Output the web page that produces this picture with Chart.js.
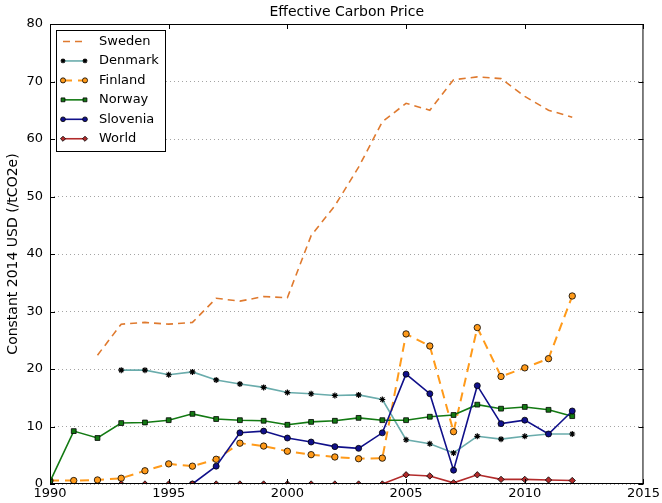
<!DOCTYPE html>
<html>
<head>
<meta charset="utf-8">
<script src="https://cdn.jsdelivr.net/npm/chart.js@4.4.0/dist/chart.umd.min.js"></script>
<style>
  html, body { margin: 0; padding: 0; background: #fff; }
</style>
</head>
<body>
<canvas id="grafico" width="662" height="503"></canvas>
<script>
const years = [1990, 1991, 1992, 1993, 1994, 1995, 1996, 1997, 1998, 1999, 2000, 2001,
  2002, 2003, 2004, 2005, 2006, 2007, 2008, 2009, 2010, 2011, 2012];

const sweden = [null, null, 22.4, 27.8, 28.1, 27.8, 28.1, 32.3, 31.8, 32.6, 32.4, 43.2,
  48.4, 55.1, 63.0, 66.2, 65.0, 70.3, 70.8, 70.5, 67.4, 65.0, 63.8];
const denmark = [null, null, null, 19.8, 19.8, 19.0, 19.5, 18.1, 17.4, 16.8, 15.9, 15.7,
  15.4, 15.5, 14.7, 7.7, 7.0, 5.4, 8.3, 7.8, 8.3, 8.7, 8.7];
const finland = [0.6, 0.6, 0.7, 1.0, 2.3, 3.5, 3.1, 4.3, 7.1, 6.6, 5.7, 5.1,
  4.7, 4.4, 4.5, 26.1, 24.0, 9.1, 27.2, 18.7, 20.2, 21.8, 32.7];
const norway = [0.4, 9.2, 8.0, 10.6, 10.7, 11.1, 12.2, 11.3, 11.1, 11.0, 10.3, 10.8,
  11.0, 11.5, 11.1, 11.1, 11.7, 12.0, 13.8, 13.1, 13.4, 12.9, 11.8];
const slovenia = [null, null, null, null, null, null, 0, 3.1, 8.9, 9.2, 8.0, 7.3,
  6.5, 6.2, 8.9, 19.1, 15.7, 2.4, 17.1, 10.5, 11.1, 8.7, 12.7];
const world = [null, null, null, 0, 0, 0, 0, 0, 0, 0, 0, 0,
  0, 0, 0, 1.6, 1.4, 0.2, 1.6, 0.8, 0.8, 0.7, 0.6];

const xTicks = [1990, 1995, 2000, 2005, 2010, 2015];
const yTicks = [0, 10, 20, 30, 40, 50, 60, 70, 80];

function puntos(valores) {
  return years.map((yr, i) => ({ x: yr, y: valores[i] })).filter((p) => p.y !== null);
}

const FUENTE = "'DejaVu Sans', sans-serif";

const series = [
  { label: "Sweden", data: puntos(sweden), borderColor: "#df7a2f", borderWidth: 1.6,
    borderDash: [7, 5], pointRadius: 0, order: 5 },
  { label: "Denmark", data: puntos(denmark), borderColor: "#6aacac", borderWidth: 1.6,
    pointStyle: "star", pointRadius: 3, pointBorderColor: "#000", pointBackgroundColor: "#000",
    pointBorderWidth: 1.2, order: 4 },
  { label: "Finland", data: puntos(finland), borderColor: "#ff9a1a", borderWidth: 2,
    borderDash: [9, 6], pointStyle: "circle", pointRadius: 3.2, pointBackgroundColor: "#ff9a1a",
    pointBorderColor: "#000", pointBorderWidth: 0.8, order: 3 },
  { label: "Norway", data: puntos(norway), borderColor: "#137a13", borderWidth: 1.6,
    pointStyle: "rect", pointRadius: 3.4, pointBackgroundColor: "#137a13",
    pointBorderColor: "#000", pointBorderWidth: 0.8, order: 2 },
  { label: "Slovenia", data: puntos(slovenia), borderColor: "#10108a", borderWidth: 1.6,
    pointStyle: "circle", pointRadius: 3, pointBackgroundColor: "#10108a",
    pointBorderColor: "#000", pointBorderWidth: 0.8, order: 1 },
  { label: "World", data: puntos(world), borderColor: "#b22b2b", borderWidth: 1.6,
    pointStyle: "rectRot", pointRadius: 3.2, pointBackgroundColor: "#b22b2b",
    pointBorderColor: "#000", pointBorderWidth: 0.8, order: 0 }
];

// marco, marcas hacia dentro, titulo y leyenda al estilo matplotlib
const estiloClasico = {
  id: "estiloClasico",
  afterDatasetsDraw(chart) {
    const { ctx, chartArea: a, scales } = chart;
    ctx.save();
    ctx.strokeStyle = "#000";
    ctx.lineWidth = 1;
    ctx.strokeRect(a.left + 0.5, a.top + 0.5, a.right - a.left - 1, a.bottom - a.top - 1);

    xTicks.forEach((v) => {
      const px = Math.round(scales.x.getPixelForValue(v)) + 0.5;
      ctx.beginPath();
      ctx.moveTo(px, a.bottom); ctx.lineTo(px, a.bottom - 5);
      ctx.moveTo(px, a.top); ctx.lineTo(px, a.top + 5);
      ctx.stroke();
    });
    yTicks.forEach((v) => {
      const py = Math.round(scales.y.getPixelForValue(v)) + 0.5;
      ctx.beginPath();
      ctx.moveTo(a.left, py); ctx.lineTo(a.left + 5, py);
      ctx.moveTo(a.right, py); ctx.lineTo(a.right - 5, py);
      ctx.stroke();
    });

    ctx.fillStyle = "#000";
    ctx.font = "14px " + FUENTE;
    ctx.textAlign = "center";
    ctx.textBaseline = "middle";
    ctx.fillText("Effective Carbon Price", (a.left + a.right) / 2, 12);

    // leyenda
    ctx.font = "13px " + FUENTE;
    const bx = 56.5, by = 30.5, bw = 109, bh = 121;
    ctx.fillStyle = "#fff";
    ctx.fillRect(bx, by, bw, bh);
    ctx.strokeStyle = "#000";
    ctx.strokeRect(bx, by, bw, bh);
    chart.data.datasets.forEach((ds, i) => {
      const y = 41.5 + i * 19.45;
      ctx.save();
      ctx.strokeStyle = ds.borderColor;
      ctx.lineWidth = ds.borderWidth;
      ctx.setLineDash(ds.borderDash || []);
      ctx.beginPath();
      ctx.moveTo(63, y); ctx.lineTo(85, y);
      ctx.stroke();
      ctx.restore();
      if (ds.pointRadius > 0) {
        [63, 85].forEach((x) => {
          ctx.save();
          ctx.fillStyle = ds.pointBackgroundColor;
          ctx.strokeStyle = ds.pointBorderColor;
          ctx.lineWidth = ds.pointBorderWidth;
          Chart.helpers.drawPoint(ctx, { pointStyle: ds.pointStyle, radius: ds.pointRadius * 0.8,
            borderWidth: ds.pointBorderWidth, rotation: 0 }, x, y);
          ctx.restore();
        });
      }
      ctx.fillStyle = "#000";
      ctx.textAlign = "left";
      ctx.fillText(ds.label, 99, y);
    });
    ctx.restore();
  }
};

new Chart(document.getElementById("grafico"), {
  type: "line",
  data: { datasets: series },
  plugins: [estiloClasico],
  options: {
    responsive: false,
    animation: false,
    layout: { padding: { top: 24, right: 17, left: 0, bottom: 0 } },
    elements: { line: { tension: 0 } },
    plugins: { legend: { display: false }, title: { display: false }, tooltip: { enabled: false } },
    scales: {
      x: {
        type: "linear", min: 1990, max: 2015,
        afterFit: (s) => { s.height = 19; },
        afterBuildTicks: (s) => { s.ticks = xTicks.map((v) => ({ value: v })); },
        grid: { display: false, drawTicks: false },
        border: { display: false },
        ticks: { color: "#000", font: { family: FUENTE, size: 13 }, padding: 2,
          maxRotation: 0, callback: (v) => String(v) }
      },
      y: {
        min: 0, max: 80,
        afterFit: (s) => { s.width = 50; },
        afterBuildTicks: (s) => { s.ticks = yTicks.map((v) => ({ value: v })); },
        grid: { color: "rgba(0,0,0,0.45)", lineWidth: 0.8, drawTicks: false },
        border: { display: false, dash: [1, 3] },
        ticks: { color: "#000", font: { family: FUENTE, size: 13 }, padding: 7 },
        title: { display: true, text: "Constant 2014 USD (/tCO2e)", color: "#000",
          font: { family: FUENTE, size: 14 }, padding: { top: 5, bottom: 0 } }
      }
    }
  }
});
</script>
</body>
</html>
